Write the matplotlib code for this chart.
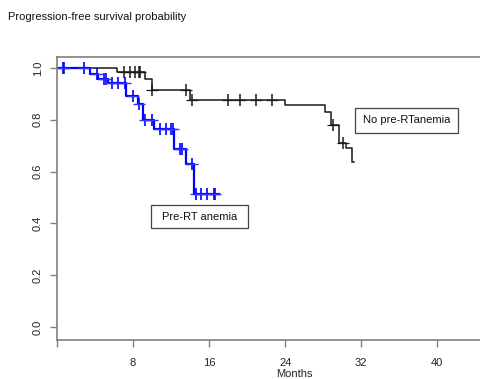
import matplotlib
matplotlib.use("Agg")
import matplotlib.pyplot as plt
from matplotlib.patches import Rectangle
import numpy as np

plt.rcParams['font.family'] = ['Liberation Sans', 'DejaVu Sans']

# No pre-RT anemia (black)
no_event_t = [6.3, 9.3, 10.0, 14.0, 24.0, 28.2, 28.8, 29.7, 30.4, 31.0]
no_event_s = [0.985, 0.956, 0.914, 0.876, 0.856, 0.828, 0.78, 0.711, 0.692, 0.638]
no_end = 31.2
no_cens = [7.0, 7.7, 8.2, 8.6, 8.7, 10.0, 13.6, 14.2, 18.0, 19.3, 20.9, 22.6, 29.0, 30.1]

# Pre-RT anemia (blue)
pre_event_t = [3.5, 4.3, 5.4, 7.3, 8.5, 9.0, 10.2, 12.3, 13.6, 14.4]
pre_event_s = [0.977, 0.958, 0.94, 0.89, 0.86, 0.80, 0.765, 0.687, 0.63, 0.515]
pre_end = 17.0
pre_cens = [0.6, 0.7, 2.8, 4.2, 4.9, 5.2, 5.8, 6.4, 7.2, 8.0, 8.6, 9.3, 10.0,
            10.8, 11.5, 12.0, 12.2, 12.9, 13.1, 14.2, 14.6, 15.1, 15.8, 16.5, 16.6]

x_ticks = [0, 8, 16, 24, 32, 40]
x_ticklabels = ['', '8', '16', '24', '32', '40']
y_ticks = [0.0, 0.2, 0.4, 0.6, 0.8, 1.0]
y_ticklabels = ['0.0', '0.2', '0.4', '0.6', '0.8', '1.0']

title = 'Progression-free survival probability'
xlabel = 'Months'
label_no = 'No pre-RTanemia'
label_pre = 'Pre-RT anemia'


def step_xy(ev_t, ev_s, end):
    xs = [0.0] + list(ev_t) + [end]
    ys = [1.0] + list(ev_s) + [ev_s[-1]]
    return xs, ys


def surv_at(t, ev_t, ev_s):
    s = 1.0
    for et, es in zip(ev_t, ev_s):
        if t >= et:
            s = es
    return s


fig = plt.figure(figsize=(4.8, 3.79), dpi=100)
ax = fig.add_axes([57 / 480, 39 / 379, 423 / 480, 283 / 379])

gray = '#7f7f7f'

xs, ys = step_xy(no_event_t, no_event_s, no_end)
ax.step(xs, ys, where='post', color='#1a1a1a', lw=1.1)
ax.plot(no_cens, [surv_at(t, no_event_t, no_event_s) for t in no_cens],
        linestyle='none', marker='|', markersize=9, mew=1.1, color='#1a1a1a')

xs, ys = step_xy(pre_event_t, pre_event_s, pre_end)
ax.step(xs, ys, where='post', color='#0000ff', lw=1.6)
ax.plot(pre_cens, [surv_at(t, pre_event_t, pre_event_s) for t in pre_cens],
        linestyle='none', marker='|', markersize=9, mew=1.2, color='#0000ff')
# horizontal bars of the "+" censor marks
ax.plot(pre_cens, [surv_at(t, pre_event_t, pre_event_s) for t in pre_cens],
        linestyle='none', marker='_', markersize=9, mew=1.0, color='#3333ff')
ax.plot(no_cens, [surv_at(t, no_event_t, no_event_s) for t in no_cens],
        linestyle='none', marker='_', markersize=9, mew=0.9, color='#1a1a1a')

ax.set_xlim(0, 44.5)
ax.set_ylim(-0.05, 1.042)
ax.set_xticks(x_ticks)
ax.set_xticklabels(x_ticklabels)
ax.set_yticks(y_ticks)
ax.set_yticklabels(y_ticklabels, rotation=90, va='center')
ax.tick_params(axis='x', length=5, width=1, color=gray, pad=8, labelsize=8, labelcolor='#222222')
ax.tick_params(axis='y', length=5, width=1, color=gray, pad=5, labelsize=8, labelcolor='#222222')
for side in ['left', 'bottom', 'top']:
    ax.spines[side].set_color(gray)
    ax.spines[side].set_linewidth(1.2)
ax.spines['right'].set_visible(False)

ax.text(25, -0.183, xlabel, ha='center', va='center', fontsize=8, color='#222222')

# label boxes
ax.add_patch(Rectangle((31.3, 0.75), 10.9, 0.096, fill=False, edgecolor='#444444', lw=0.9))
ax.text(36.75, 0.798, label_no, ha='center', va='center', fontsize=8, color='#111111')
ax.add_patch(Rectangle((9.9, 0.382), 10.2, 0.087, fill=False, edgecolor='#444444', lw=0.9))
ax.text(15.0, 0.4255, label_pre, ha='center', va='center', fontsize=8, color='#111111')

fig.text(8 / 480, 1 - 17 / 379, title, ha='left', va='center', fontsize=8, color='#111111')

fig.savefig('out.png', dpi=100)
